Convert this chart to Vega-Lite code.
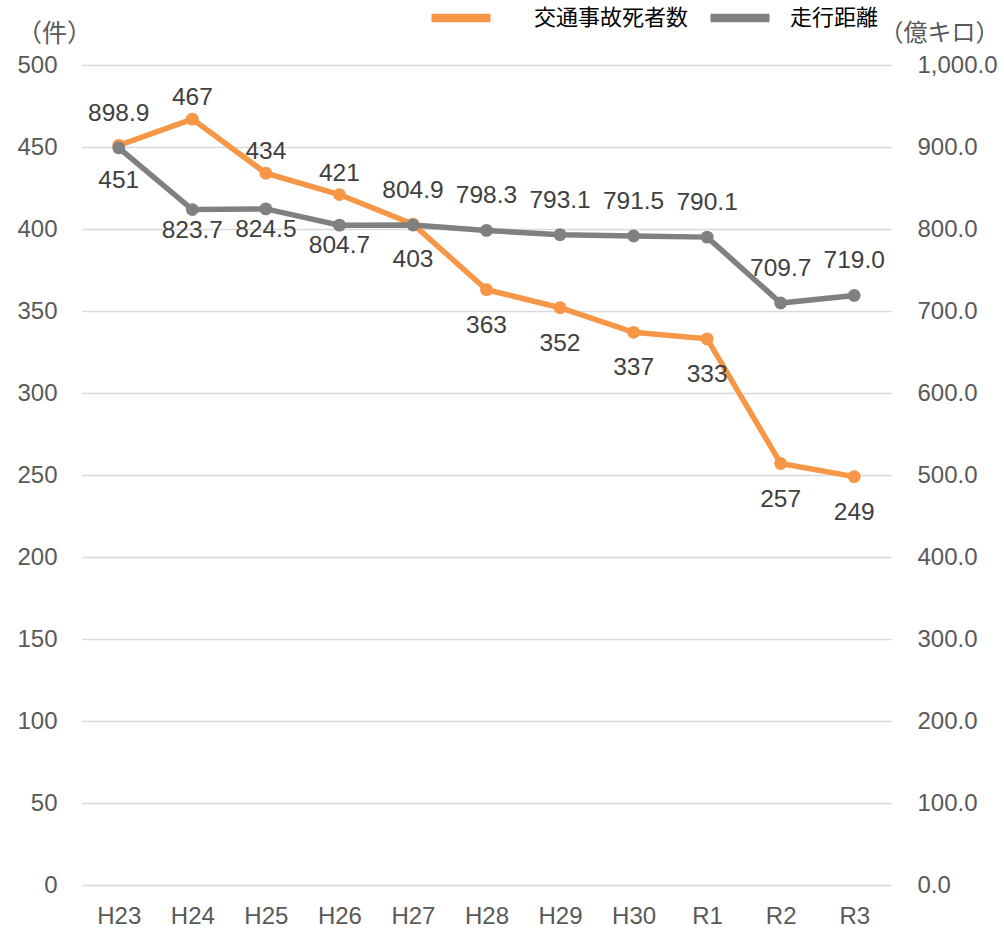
{
  "$schema": "https://vega.github.io/schema/vega-lite/v6.json",
  "width": 809,
  "height": 820,
  "autosize": {"type": "none"},
  "padding": {"left": 82, "top": 65, "right": 113, "bottom": 43},
  "background": "white",
  "config": {
    "font": "Liberation Sans",
    "view": {"stroke": null},
    "axis": {
      "labelFont": "Liberation Sans",
      "labelFontSize": 24,
      "labelColor": "#595959",
      "domain": false,
      "ticks": false,
      "titleFont": "Noto Sans CJK JP",
      "titleFontSize": 25,
      "titleFontWeight": "normal",
      "titleColor": "#595959"
    },
    "legend": {
      "orient": "none",
      "direction": "horizontal",
      "padding": 0,
      "symbolType": "stroke",
      "symbolSize": 3481,
      "symbolStrokeWidth": 8.5,
      "labelFont": "Noto Sans CJK JP",
      "labelFontSize": 22,
      "labelColor": "#000000",
      "labelBaseline": "middle"
    }
  },
  "data": {
    "values": [
      {"year": "H23", "deaths": 451, "distance": 898.9},
      {"year": "H24", "deaths": 467, "distance": 823.7},
      {"year": "H25", "deaths": 434, "distance": 824.5},
      {"year": "H26", "deaths": 421, "distance": 804.7},
      {"year": "H27", "deaths": 403, "distance": 804.9},
      {"year": "H28", "deaths": 363, "distance": 798.3},
      {"year": "H29", "deaths": 352, "distance": 793.1},
      {"year": "H30", "deaths": 337, "distance": 791.5},
      {"year": "R1", "deaths": 333, "distance": 790.1},
      {"year": "R2", "deaths": 257, "distance": 709.7},
      {"year": "R3", "deaths": 249, "distance": 719.0}
    ]
  },
  "encoding": {
    "x": {
      "field": "year",
      "type": "ordinal",
      "sort": null,
      "scale": {"type": "point", "padding": 0.5},
      "axis": {"title": null, "labelAngle": 0, "labelPadding": 19, "grid": false}
    }
  },
  "layer": [
    {
      "encoding": {
        "y": {
          "field": "deaths",
          "type": "quantitative",
          "scale": {"domain": [0, 500], "nice": false},
          "axis": {
            "orient": "left",
            "values": [0, 50, 100, 150, 200, 250, 300, 350, 400, 450, 500],
            "grid": true,
            "gridColor": "#D9D9D9",
            "gridWidth": 1.5,
            "labelPadding": 25,
            "title": "（件）",
            "titleAngle": 0,
            "titleAlign": "center",
            "titleBaseline": "middle",
            "titleX": -28,
            "titleY": -32
          }
        }
      },
      "layer": [
        {
          "mark": {"type": "line", "strokeWidth": 5.5},
          "encoding": {
            "color": {
              "datum": "交通事故死者数",
              "type": "nominal",
              "scale": {"domain": ["交通事故死者数"], "range": ["#F79646"]},
              "legend": {
                "title": null,
                "legendX": 345,
                "legendY": -81,
                "labelOffset": 39
              }
            }
          }
        },
        {
          "mark": {"type": "circle", "size": 165, "opacity": 1, "color": "#F79646"}
        },
        {
          "transform": [{"filter": {"field": "year", "oneOf": ["H24", "H25", "H26"]}}],
          "mark": {"type": "text", "dy": -21, "fontSize": 24.5, "color": "#404040", "baseline": "middle"},
          "encoding": {"text": {"field": "deaths", "type": "quantitative", "format": "d"}}
        },
        {
          "transform": [{"filter": {"field": "year", "oneOf": ["H23", "H27", "H28", "H29", "H30", "R1", "R2", "R3"]}}],
          "mark": {"type": "text", "dy": 36, "fontSize": 24.5, "color": "#404040", "baseline": "middle"},
          "encoding": {"text": {"field": "deaths", "type": "quantitative", "format": "d"}}
        }
      ]
    },
    {
      "encoding": {
        "y": {
          "field": "distance",
          "type": "quantitative",
          "scale": {"domain": [0, 1000], "nice": false},
          "axis": {
            "orient": "right",
            "values": [0, 100, 200, 300, 400, 500, 600, 700, 800, 900, 1000],
            "format": ",.1f",
            "grid": false,
            "labelPadding": 26,
            "title": "（億キロ）",
            "titleAngle": 0,
            "titleAlign": "center",
            "titleBaseline": "middle",
            "titleFontSize": 24,
            "titleX": 48,
            "titleY": -32
          }
        }
      },
      "layer": [
        {
          "mark": {"type": "line", "strokeWidth": 5.5},
          "encoding": {
            "stroke": {
              "datum": "走行距離",
              "type": "nominal",
              "scale": {"domain": ["走行距離"], "range": ["#808080"]},
              "legend": {
                "title": null,
                "legendX": 624,
                "legendY": -81,
                "labelOffset": 16
              }
            }
          }
        },
        {
          "mark": {"type": "circle", "size": 165, "opacity": 1, "color": "#808080"}
        },
        {
          "transform": [{"filter": {"field": "year", "oneOf": ["H23", "H27", "H28", "H29", "H30", "R1", "R2", "R3"]}}],
          "mark": {"type": "text", "dy": -34, "fontSize": 24.5, "color": "#404040", "baseline": "middle"},
          "encoding": {"text": {"field": "distance", "type": "quantitative", "format": ".1f"}}
        },
        {
          "transform": [{"filter": {"field": "year", "oneOf": ["H24", "H25", "H26"]}}],
          "mark": {"type": "text", "dy": 21, "fontSize": 24.5, "color": "#404040", "baseline": "middle"},
          "encoding": {"text": {"field": "distance", "type": "quantitative", "format": ".1f"}}
        }
      ]
    }
  ],
  "resolve": {"scale": {"y": "independent"}}
}
